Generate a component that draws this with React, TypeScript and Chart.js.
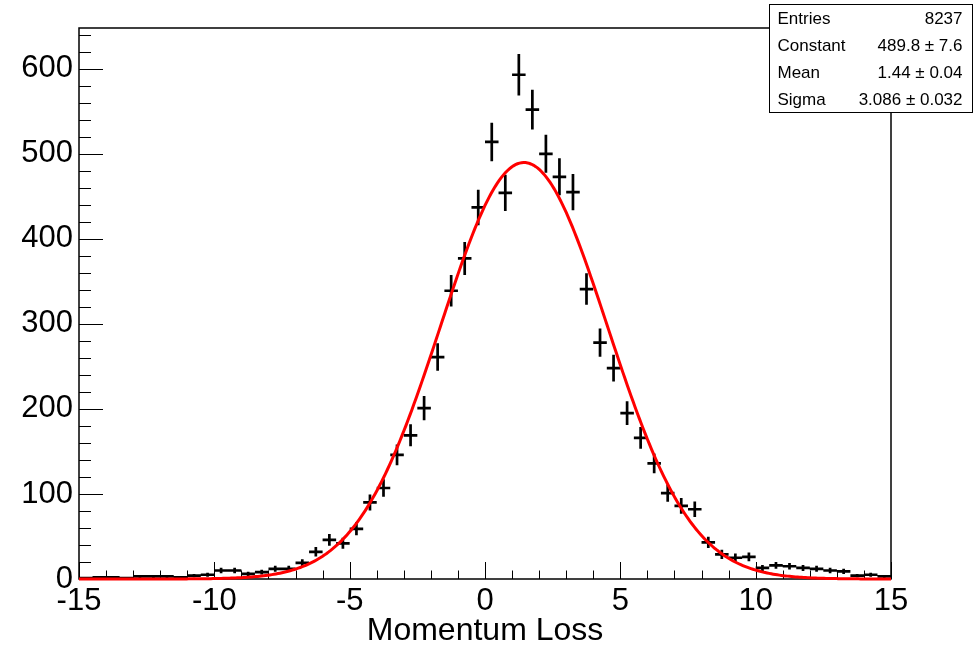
import React, { useEffect, useRef } from "react";
import { Chart, registerables } from "chart.js";

Chart.register(...registerables);

// Bin centres (bin width 0.5) of the "Momentum Loss" histogram
const binCenters = [
  -14.75, -14.25, -13.75, -13.25, -12.75, -12.25, -11.75, -11.25, -10.75, -10.25,
  -9.75, -9.25, -8.75, -8.25, -7.75, -7.25, -6.75, -6.25, -5.75, -5.25,
  -4.75, -4.25, -3.75, -3.25, -2.75, -2.25, -1.75, -1.25, -0.75, -0.25,
  0.25, 0.75, 1.25, 1.75, 2.25, 2.75, 3.25, 3.75, 4.25, 4.75,
  5.25, 5.75, 6.25, 6.75, 7.25, 7.75, 8.25, 8.75, 9.25, 9.75,
  10.25, 10.75, 11.25, 11.75, 12.25, 12.75, 13.25, 13.75, 14.25, 14.75,
];

// Bin contents
const binCounts = [
  1, 2, 2, 1, 3, 3, 3, 2, 4, 5,
  10, 10, 6, 8, 12, 12, 19, 32, 46, 42,
  59, 90, 107, 146, 169, 201, 261, 339, 377, 437,
  514, 454, 593, 552, 500, 473, 455, 341, 278, 248,
  195, 166, 136, 101, 86, 82, 43, 29, 25, 26,
  13, 16, 15, 13, 12, 10, 9, 4, 5, 3,
];

const binWidth = 0.5;

const xTickValues = [-15, -10, -5, 0, 5, 10, 15];
const yTickValues = [0, 100, 200, 300, 400, 500, 600];

// Gaussian fit parameters (from the stats box)
const fitConstant = 489.8;
const fitMean = 1.44;
const fitSigma = 3.086;

const statsLabels = ["Entries", "Constant", "Mean", "Sigma"];
const statsValues = ["8237", "489.8 \u00b1 7.6", "1.44 \u00b1 0.04", "3.086 \u00b1 0.032"];

const xTitle = "Momentum Loss";

const FONT = "'Liberation Sans', Arial, Helvetica, sans-serif";

export default function App() {
  const canvasRef = useRef<HTMLCanvasElement | null>(null);

  useEffect(() => {
    const canvas = canvasRef.current;
    if (!canvas) return;

    // error bars: vertical +-sqrt(N) and horizontal across bin width, separated by gaps
    const errPoints: any[] = [];
    binCenters.forEach((c, i) => {
      const n = binCounts[i];
      const e = Math.sqrt(n);
      errPoints.push({ x: c, y: n - e });
      errPoints.push({ x: c, y: n + e });
      errPoints.push({ x: c, y: null });
      errPoints.push({ x: c - binWidth / 2, y: n });
      errPoints.push({ x: c + binWidth / 2, y: n });
      errPoints.push({ x: c, y: null });
    });

    // fit function evaluated from its stated parameters
    const fitPoints: { x: number; y: number }[] = [];
    const nSamples = 400;
    for (let k = 0; k <= nSamples; k++) {
      const x = -15 + (30 * k) / nSamples;
      const z = (x - fitMean) / fitSigma;
      fitPoints.push({ x, y: fitConstant * Math.exp(-0.5 * z * z) });
    }

    const framePlugin = {
      id: "rootFrame",
      beforeDatasetsDraw(chart: any) {
        const { ctx, chartArea } = chart;
        const xs = chart.scales.x;
        const ys = chart.scales.y;
        ctx.save();
        ctx.strokeStyle = "#000";
        ctx.lineWidth = 1.5;
        ctx.strokeRect(chartArea.left, chartArea.top, chartArea.right - chartArea.left, chartArea.bottom - chartArea.top);
        ctx.lineWidth = 1;
        ctx.beginPath();
        // x ticks (inward, from bottom axis)
        for (let v = -15; v <= 15; v += 1) {
          const px = Math.round(xs.getPixelForValue(v)) + 0.5;
          const len = v % 5 === 0 ? 17 : 8.5;
          ctx.moveTo(px, chartArea.bottom);
          ctx.lineTo(px, chartArea.bottom - len);
        }
        // y ticks (inward, from left axis)
        for (let v = 0; v <= 640; v += 20) {
          const py = Math.round(ys.getPixelForValue(v)) + 0.5;
          const len = v % 100 === 0 ? 24 : 12;
          ctx.moveTo(chartArea.left, py);
          ctx.lineTo(chartArea.left + len, py);
        }
        ctx.stroke();
        ctx.restore();
      },
      afterDraw(chart: any) {
        const { ctx } = chart;
        const bx = 769.5, by = 4.5, bw = 203, bh = 108;
        ctx.save();
        ctx.fillStyle = "#fff";
        ctx.fillRect(bx, by, bw, bh);
        ctx.strokeStyle = "#000";
        ctx.lineWidth = 1;
        ctx.strokeRect(bx, by, bw, bh);
        ctx.fillStyle = "#000";
        ctx.font = `17px ${FONT}`;
        ctx.textBaseline = "middle";
        const rowH = bh / statsLabels.length;
        statsLabels.forEach((lab, i) => {
          const cy = by + rowH * (i + 0.5) + 1.5;
          ctx.textAlign = "left";
          ctx.fillText(lab, bx + 8, cy);
          ctx.textAlign = "right";
          ctx.fillText(statsValues[i], bx + bw - 10, cy);
        });
        ctx.restore();
      },
    };

    const chart = new Chart(canvas, {
      type: "scatter",
      data: {
        datasets: [
          {
            label: "fit",
            data: fitPoints,
            showLine: true,
            borderColor: "#ff0000",
            borderWidth: 3,
            pointRadius: 0,
            tension: 0,
            clip: false as any,
          },
          {
            label: "hist",
            data: errPoints,
            showLine: true,
            spanGaps: false,
            borderColor: "#000",
            borderWidth: 2.7,
            pointRadius: 0,
            tension: 0,
            clip: false as any,
          },
        ],
      },
      plugins: [framePlugin],
      options: {
        animation: false,
        responsive: false,
        devicePixelRatio: 1,
        layout: { padding: { left: 0, top: 28, right: 89, bottom: 0 } },
        plugins: {
          legend: { display: false },
          tooltip: { enabled: false },
        },
        scales: {
          x: {
            type: "linear",
            min: -15,
            max: 15,
            grid: { display: false, drawTicks: false },
            border: { display: false },
            afterBuildTicks: (scale: any) => {
              scale.ticks = xTickValues.map((v) => ({ value: v }));
            },
            afterFit: (scale: any) => {
              scale.height = 71;
            },
            ticks: {
              color: "#000",
              font: { family: FONT, size: 31 },
              padding: 4,
              maxRotation: 0,
              autoSkip: false,
              callback: (v: any) => String(v),
            },
            title: {
              display: true,
              text: xTitle,
              color: "#000",
              font: { family: FONT, size: 32 },
              padding: { top: 0, bottom: 0 },
            },
          },
          y: {
            type: "linear",
            min: 0,
            max: 648,
            grid: { display: false, drawTicks: false },
            border: { display: false },
            afterBuildTicks: (scale: any) => {
              scale.ticks = yTickValues.map((v) => ({ value: v }));
            },
            afterFit: (scale: any) => {
              scale.width = 79;
            },
            ticks: {
              color: "#000",
              font: { family: FONT, size: 31 },
              padding: 6,
              autoSkip: false,
              callback: (v: any) => String(v),
            },
          },
        },
      },
    });

    return () => chart.destroy();
  }, []);

  return (
    <div style={{ position: "absolute", left: 0, top: 0, width: 980, height: 650, background: "#fff" }}>
      <canvas ref={canvasRef} width={980} height={650} style={{ display: "block", width: 980, height: 650 }} />
    </div>
  );
}
